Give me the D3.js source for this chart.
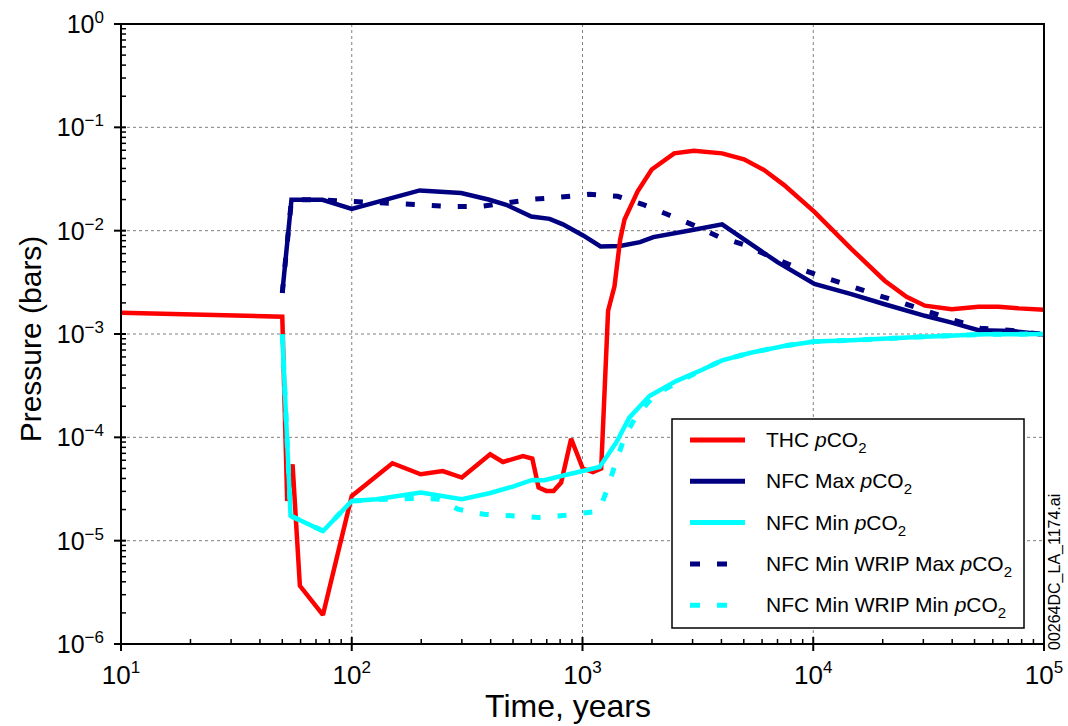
<!DOCTYPE html>
<html><head><meta charset="utf-8">
<script src="https://cdn.jsdelivr.net/npm/d3@7"></script>
<style>
html,body{margin:0;padding:0;background:#fff;}
svg{display:block;font-family:"Liberation Sans",Arial,Helvetica,sans-serif;}
</style></head>
<body>
<svg id="chart" width="1068" height="726"></svg>
<script>
// ---- data (time in years, pressure in bars) ----
const thcT = [10, 50, 52.5, 55.4, 59.6, 75, 100, 150, 199, 248, 300, 398, 452, 552, 606, 645, 697, 749, 808, 893, 1003, 1109, 1205, 1291, 1376, 1456, 1521, 1734, 1995, 2496, 3035, 4028, 5010, 6125, 7480, 10120, 14620, 20400, 25370, 30460, 39830, 52020, 63630, 77800, 100000];
const thcP = [1.61e-3, 1.47e-3, 2.42e-5, 5.48e-5, 3.66e-6, 1.91e-6, 2.71e-5, 5.61e-5, 4.39e-5, 4.72e-5, 4.08e-5, 6.85e-5, 5.77e-5, 6.6e-5, 6.22e-5, 3.27e-5, 3.03e-5, 3.03e-5, 3.65e-5, 9.7e-5, 4.99e-5, 4.62e-5, 4.99e-5, 1.68e-3, 2.9e-3, 8.18e-3, 1.28e-2, 2.4e-2, 3.91e-2, 5.6e-2, 5.94e-2, 5.6e-2, 4.9e-2, 3.86e-2, 2.76e-2, 1.52e-2, 6.67e-3, 3.28e-3, 2.29e-3, 1.88e-3, 1.74e-3, 1.84e-3, 1.84e-3, 1.77e-3, 1.72e-3];

const nfcMaxT = [50, 54.8, 74.7, 100, 197, 298, 395, 467, 600, 720, 822, 1006, 1197, 1453, 1775, 2028, 3035, 4028, 5357, 6998, 10120, 14620, 20400, 30460, 39830, 52020, 72600, 100000];
const nfcMaxP = [2.5e-3, 1.99e-2, 1.99e-2, 1.62e-2, 2.45e-2, 2.31e-2, 1.99e-2, 1.78e-2, 1.37e-2, 1.3e-2, 1.15e-2, 8.99e-3, 7.04e-3, 7.1e-3, 7.74e-3, 8.67e-3, 1.02e-2, 1.15e-2, 7.45e-3, 4.95e-3, 3.05e-3, 2.43e-3, 1.94e-3, 1.5e-3, 1.29e-3, 1.09e-3, 1.07e-3, 9.9e-4];

const nfcMinT = [50, 54.3, 75.1, 100, 128, 199, 300, 395, 499, 606, 684, 835, 1003, 1186, 1400, 1596, 1950, 2545, 3320, 4028, 5357, 7480, 10120, 14620, 28500, 55600, 100000];
const nfcMinP = [9.9e-4, 1.74e-5, 1.24e-5, 2.42e-5, 2.52e-5, 2.92e-5, 2.52e-5, 2.88e-5, 3.34e-5, 3.87e-5, 3.84e-5, 4.3e-5, 4.72e-5, 5.17e-5, 8.89e-5, 1.55e-4, 2.51e-4, 3.5e-4, 4.54e-4, 5.56e-4, 6.59e-4, 7.66e-4, 8.45e-4, 8.69e-4, 9.37e-4, 9.93e-4, 1.0e-3];

const wripMaxT = [50, 54.8, 74.7, 93, 161, 279, 365, 620, 771, 1072, 1419, 1820, 2382, 3055, 3920, 5130, 6580, 8440, 10830, 14320, 18380, 24050, 31480, 40790, 52850, 70500, 100000];
const wripMaxP = [2.5e-3, 1.99e-2, 1.99e-2, 1.93e-2, 1.82e-2, 1.71e-2, 1.72e-2, 2.02e-2, 2.09e-2, 2.25e-2, 2.15e-2, 1.8e-2, 1.41e-2, 1.12e-2, 8.67e-3, 7.2e-3, 5.53e-3, 4.42e-3, 3.6e-3, 2.94e-3, 2.43e-3, 2.02e-3, 1.65e-3, 1.36e-3, 1.14e-3, 1.09e-3, 9.9e-4];

const wripMinT = [50, 54.3, 75.1, 100, 128, 199, 240, 288, 373, 493, 645, 843, 1116, 1186, 1270, 1390, 1520, 1714, 2072, 2630, 3320, 4028, 5357, 7480, 10120, 14620, 28500, 55600, 100000];
const wripMinP = [9.9e-4, 1.74e-5, 1.24e-5, 2.42e-5, 2.5e-5, 2.57e-5, 2.52e-5, 2.02e-5, 1.8e-5, 1.74e-5, 1.68e-5, 1.76e-5, 1.9e-5, 2.0e-5, 3.0e-5, 5.6e-5, 1.0e-4, 1.63e-4, 2.6e-4, 3.48e-4, 4.54e-4, 5.56e-4, 6.59e-4, 7.66e-4, 8.45e-4, 8.69e-4, 9.37e-4, 9.93e-4, 1.0e-3];

const xTickExps = [1, 2, 3, 4, 5];
const yTickExps = [0, -1, -2, -3, -4, -5, -6];
const legendLabels = ["THC", "NFC Max", "NFC Min", "NFC Min WRIP Max", "NFC Min WRIP Min"];

// ---- layout ----
const L = 121, R = 1044, T = 24, B = 644;
const svg = d3.select("#chart");
const x = d3.scaleLog().domain([10, 1e5]).range([L, R]);
const y = d3.scaleLog().domain([1e-6, 1]).range([B, T]);

const xMajors = xTickExps.map(e => Math.pow(10, e));
const yMajors = yTickExps.map(e => Math.pow(10, e));
const xMinors = x.ticks().filter(v => !xMajors.some(m => Math.abs(m - v) / m < 1e-9));
const yMinors = y.ticks().filter(v => !yMajors.some(m => Math.abs(m - v) / m < 1e-9));

// grid
const grid = svg.append("g").attr("stroke", "#808080").attr("stroke-width", 1).attr("stroke-dasharray", "3,3");
xMajors.slice(1, -1).forEach(v => grid.append("line").attr("x1", x(v)).attr("x2", x(v)).attr("y1", T).attr("y2", B));
yMajors.slice(1, -1).forEach(v => grid.append("line").attr("y1", y(v)).attr("y2", y(v)).attr("x1", L).attr("x2", R));

// series
const line = d3.line().x(d => x(d[0])).y(d => y(d[1]));
const zip = (a, b) => a.map((v, i) => [v, b[i]]);
const series = [
  {t: nfcMaxT, p: nfcMaxP, c: "#000080", dash: null},
  {t: wripMaxT, p: wripMaxP, c: "#000080", dash: "9,17"},
  {t: thcT, p: thcP, c: "#ff0000", dash: null},
  {t: nfcMinT, p: nfcMinP, c: "#00ffff", dash: null},
  {t: wripMinT, p: wripMinP, c: "#00ffff", dash: "9,17"}
];
const plot = svg.append("g");
series.forEach(s => {
  plot.append("path").attr("d", line(zip(s.t, s.p)))
    .attr("fill", "none").attr("stroke", s.c)
    .attr("stroke-width", s.dash ? 5 : 4.5)
    .attr("stroke-linejoin", "miter").attr("stroke-miterlimit", 2)
    .attr("stroke-dasharray", s.dash);
});

// frame
svg.append("rect").attr("x", L).attr("y", T).attr("width", R - L).attr("height", B - T)
  .attr("fill", "none").attr("stroke", "#000").attr("stroke-width", 2);

// ticks
const tk = svg.append("g").attr("stroke", "#000").attr("stroke-width", 1.5);
xMinors.forEach(v => tk.append("line").attr("x1", x(v)).attr("x2", x(v)).attr("y1", B).attr("y2", B - 5));
xMajors.forEach(v => tk.append("line").attr("x1", x(v)).attr("x2", x(v)).attr("y1", B - 7).attr("y2", B + 7).attr("stroke-width", 2));
yMinors.forEach(v => tk.append("line").attr("y1", y(v)).attr("y2", y(v)).attr("x1", L).attr("x2", L + 5));
yMajors.forEach(v => tk.append("line").attr("y1", y(v)).attr("y2", y(v)).attr("x1", L - 7).attr("x2", L + 5).attr("stroke-width", 2));

// tick labels
const fmtExp = e => (e < 0 ? "\u2212" + (-e) : String(e));
xTickExps.forEach(e => {
  const t = svg.append("text").attr("x", x(Math.pow(10, e))).attr("y", 684)
    .attr("text-anchor", "middle").attr("font-size", 26).attr("fill", "#000");
  t.append("tspan").text("10");
  t.append("tspan").attr("dy", -11).attr("font-size", 17).text(fmtExp(e));
});
yTickExps.forEach(e => {
  const t = svg.append("text").attr("x", 104).attr("y", y(Math.pow(10, e)) + 9)
    .attr("text-anchor", "end").attr("font-size", 25).attr("fill", "#000");
  t.append("tspan").text("10");
  t.append("tspan").attr("dy", -10).attr("font-size", 17).text(fmtExp(e));
});

// axis titles
svg.append("text").attr("x", 568).attr("y", 717).attr("text-anchor", "middle")
  .attr("font-size", 32).text("Time, years");
svg.append("text").attr("transform", `translate(41,${(T + B) / 2 + 5}) rotate(-90)`)
  .attr("text-anchor", "middle").attr("font-size", 30).text("Pressure (bars)");

// file id
svg.append("text").attr("transform", "translate(1060,650) rotate(-90)")
  .attr("font-size", 16).attr("text-anchor", "start").text("00264DC_LA_1174.ai");

// legend
const lg = svg.append("g");
lg.append("rect").attr("x", 672).attr("y", 419).attr("width", 352).attr("height", 209)
  .attr("fill", "#fff").attr("stroke", "#000").attr("stroke-width", 1.5);
const legendSeries = [series[2], series[0], series[3], series[1], series[4]];
legendLabels.forEach((lab, i) => {
  const yy = 440 + i * 41.3;
  const s = legendSeries[i];
  lg.append("line").attr("x1", 690).attr("x2", s.dash ? 729 : 745).attr("y1", yy).attr("y2", yy)
    .attr("stroke", s.c).attr("stroke-width", 5).attr("stroke-dasharray", s.dash ? "10,17" : null);
  const t = lg.append("text").attr("x", 766).attr("y", yy + 7).attr("font-size", 21).attr("fill", "#000");
  t.append("tspan").text(lab + " ");
  t.append("tspan").attr("font-style", "italic").text("p");
  t.append("tspan").text("CO");
  t.append("tspan").attr("font-size", 15).attr("dy", 6).text("2");
});
</script>
</body></html>
